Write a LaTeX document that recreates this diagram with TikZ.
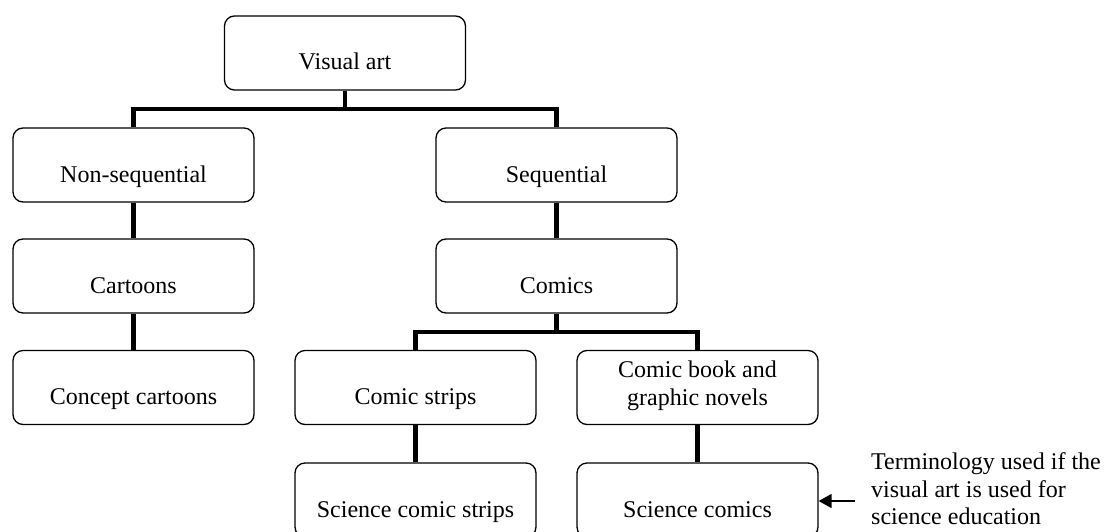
\documentclass[tikz,border=0pt]{standalone}
\usepackage{fontspec}
\setmainfont{Liberation Serif}
\usetikzlibrary{arrows.meta}
\begin{document}
\begin{tikzpicture}[x=1pt,y=-1pt,
  box/.style={draw, line width=1.3pt, rounded corners=10pt, minimum width=241pt, minimum height=74pt, inner sep=0pt},
  lbl/.style={font=\fontsize{24}{27.5}\selectfont, align=center, inner sep=0pt},
  one/.style={lbl, anchor=base},
  conn/.style={line width=4.8pt},
  arr/.style={line width=1.5pt, -{Triangle[length=13pt,width=14pt]}}]
\useasboundingbox (0,0) rectangle (1107,532);
\clip (0,0) rectangle (1107,532);
% boxes
\node[box] (va) at (345,53) {};
\node[box] (ns) at (133.5,165) {};
\node[box] (sq) at (556.5,165) {};
\node[box] (ca) at (133.5,276) {};
\node[box] (co) at (556.5,276) {};
\node[box] (cc) at (133.5,387.5) {};
\node[box] (cs) at (415.5,387.5) {};
\node[box] (cb) at (697.5,387.5) {};
\node[box] (scs) at (415.5,500) {};
\node[box] (scm) at (697.5,500) {};
% labels
\node[one] (vat) at ([yshift=-17pt]va.center) {Visual art};
\node[one] (nst) at ([yshift=-17pt]ns.center) {Non-sequential};
\node[one] (sqt) at ([yshift=-17pt]sq.center) {Sequential};
\node[one] (cat) at ([yshift=-17pt]ca.center) {Cartoons};
\node[one] (cot) at ([yshift=-17pt]co.center) {Comics};
\node[one] (cct) at ([yshift=-17pt]cc.center) {Concept cartoons};
\node[one] (cst) at ([yshift=-17pt]cs.center) {Comic strips};
\node[lbl] (cbt) at ([yshift=1.5pt]cb.center) {Comic book and\\graphic novels};
\node[one] (scst) at ([yshift=-17pt]scs.center) {Science comic strips};
\node[one] (scmt) at ([yshift=-17pt]scm.center) {Science comics};
% connectors
\coordinate (b1) at (345,109);
\coordinate (b2) at (556.5,332);
\draw[conn] (va.south) -- (b1);
\draw[conn] (ns.north) |- (b1) -| (sq.north);
\draw[conn] (ns.south) -- (ca.north);
\draw[conn] (ca.south) -- (cc.north);
\draw[conn] (sq.south) -- (co.north);
\draw[conn] (co.south) -- (b2);
\draw[conn] (cs.north) |- (b2) -| (cb.north);
\draw[conn] (cs.south) -- (scs.north);
\draw[conn] (cb.south) -- (scm.north);
% annotation
\node[lbl, align=left, anchor=west] (note) at (871,489) {Terminology used if the\\visual art is used for\\science education};
\coordinate (as) at (855,501);
\draw[arr] (as) -- (scm.east |- as);
\end{tikzpicture}
\end{document}
